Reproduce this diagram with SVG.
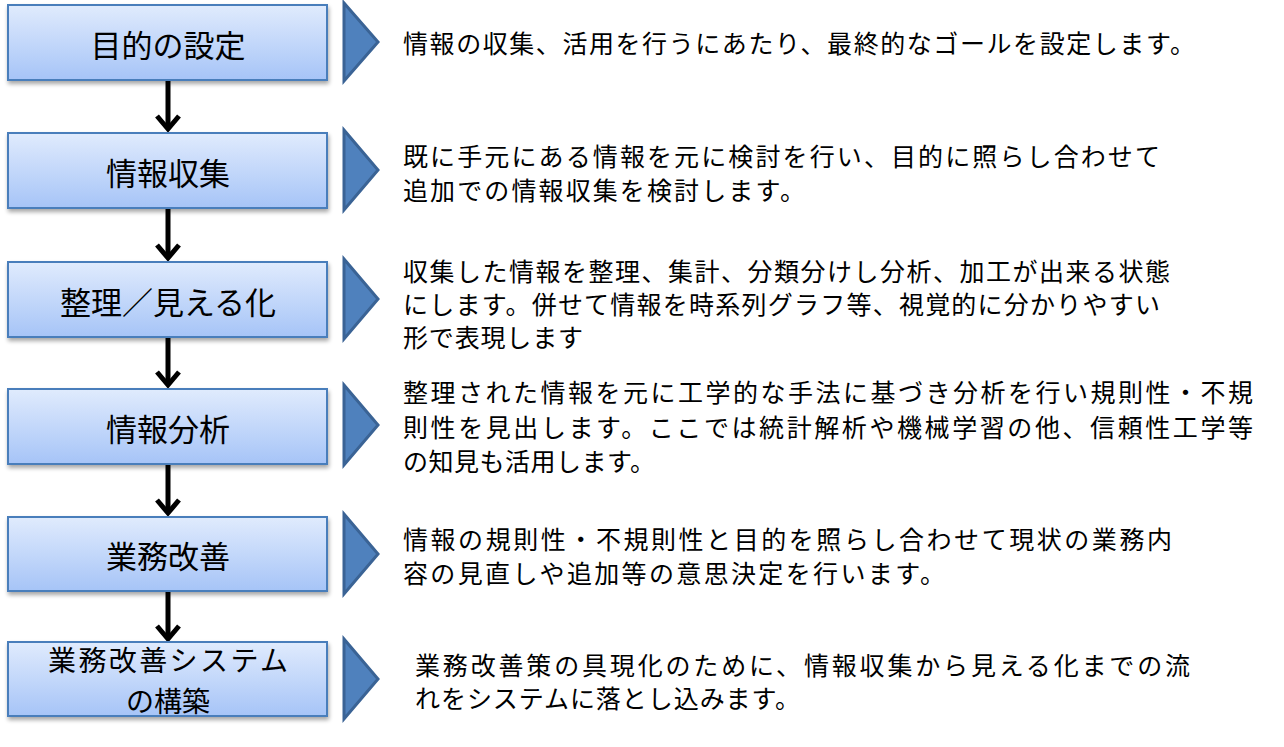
<svg xmlns="http://www.w3.org/2000/svg" width="1284" height="747" viewBox="0 0 1284 747">
<defs>
<linearGradient id="bg" x1="0" y1="0" x2="0" y2="1">
<stop offset="0" stop-color="#e0ebfd"/>
<stop offset="1" stop-color="#a6c4f7"/>
</linearGradient>
<filter id="sh" x="-10%" y="-20%" width="120%" height="150%">
<feGaussianBlur in="SourceAlpha" stdDeviation="2"/>
<feOffset dx="1" dy="3" result="o"/>
<feComponentTransfer><feFuncA type="linear" slope="0.35"/></feComponentTransfer>
<feMerge><feMergeNode/><feMergeNode in="SourceGraphic"/></feMerge>
</filter>
</defs>
<style>
.box{fill:url(#bg);stroke:#4a7ebb;stroke-width:2;filter:url(#sh)}
.tri{fill:#4f81bd;stroke:#3a6395;stroke-width:3;stroke-linejoin:miter}
.t{font-family:"Noto Sans CJK JP","Noto Sans",sans-serif;fill:#000}
.title{font-size:31px;text-anchor:middle;dominant-baseline:central}
.title2{font-size:28px;text-anchor:middle;dominant-baseline:central}
.desc{font-size:25px;dominant-baseline:central}
.arr{fill:none;stroke:#000;stroke-width:5}
.head{fill:none;stroke:#000;stroke-width:5;stroke-linejoin:miter}
</style>
<g id="connectors">
<path class="arr" d="M168 81 V127"/><path class="head" d="M157 116 L168 129 L179 116"/>
<path class="arr" d="M168 209 V256"/><path class="head" d="M157 245 L168 258 L179 245"/>
<path class="arr" d="M168 338 V383"/><path class="head" d="M157 372 L168 385 L179 372"/>
<path class="arr" d="M168 465 V511"/><path class="head" d="M157 500 L168 513 L179 500"/>
<path class="arr" d="M168 592 V637"/><path class="head" d="M157 626 L168 639 L179 626"/>
</g>
<g id="n1">
<rect class="box" x="8" y="5" width="319" height="75"/>
<text class="t title" x="168" y="43">目的の設定</text>
<polygon class="tri" points="344,3 378,42 344,81"/>
<text class="t desc" x="403" y="42" textLength="792" lengthAdjust="spacing">情報の収集、活用を行うにあたり、最終的なゴールを設定します。</text>
</g>
<g id="n2">
<rect class="box" x="8" y="133" width="319" height="75"/>
<text class="t title" x="168" y="171">情報収集</text>
<polygon class="tri" points="344,130 378,170 344,210"/>
<text class="t desc" x="403" y="155" textLength="757" lengthAdjust="spacing">既に手元にある情報を元に検討を行い、目的に照らし合わせて</text>
<text class="t desc" x="403" y="189" textLength="402" lengthAdjust="spacing">追加での情報収集を検討します。</text>
</g>
<g id="n3">
<rect class="box" x="8" y="262" width="319" height="75"/>
<text class="t title" x="168" y="300">整理／見える化</text>
<polygon class="tri" points="344,259 378,299 344,339"/>
<text class="t desc" x="403" y="270" textLength="767" lengthAdjust="spacing">収集した情報を整理、集計、分類分けし分析、加工が出来る状態</text>
<text class="t desc" x="403" y="303" textLength="757" lengthAdjust="spacing">にします。併せて情報を時系列グラフ等、視覚的に分かりやすい</text>
<text class="t desc" x="403" y="336" textLength="180" lengthAdjust="spacing">形で表現します</text>
</g>
<g id="n4">
<rect class="box" x="8" y="389" width="319" height="75"/>
<text class="t title" x="168" y="427">情報分析</text>
<polygon class="tri" points="344,385 378,425 344,465"/>
<text class="t desc" x="403" y="391" textLength="850" lengthAdjust="spacing">整理された情報を元に工学的な手法に基づき分析を行い規則性・不規</text>
<text class="t desc" x="403" y="426" textLength="850" lengthAdjust="spacing">則性を見出します。ここでは統計解析や機械学習の他、信頼性工学等</text>
<text class="t desc" x="403" y="460" textLength="252" lengthAdjust="spacing">の知見も活用します。</text>
</g>
<g id="n5">
<rect class="box" x="8" y="517" width="319" height="74"/>
<text class="t title" x="168" y="554">業務改善</text>
<polygon class="tri" points="344,514 378,554 344,594"/>
<text class="t desc" x="403" y="538" textLength="769" lengthAdjust="spacing">情報の規則性・不規則性と目的を照らし合わせて現状の業務内</text>
<text class="t desc" x="403" y="572" textLength="542" lengthAdjust="spacing">容の見直しや追加等の意思決定を行います。</text>
</g>
<g id="n6">
<rect class="box" x="8" y="642" width="319" height="74"/>
<text class="t title2" x="168" y="659" textLength="240" lengthAdjust="spacing">業務改善システム</text>
<text class="t title2" x="168" y="700">の構築</text>
<polygon class="tri" points="344,639 378,679 344,719"/>
<text class="t desc" x="415" y="664" textLength="775" lengthAdjust="spacing">業務改善策の具現化のために、情報収集から見える化までの流</text>
<text class="t desc" x="415" y="697" textLength="385" lengthAdjust="spacing">れをシステムに落とし込みます。</text>
</g>
</svg>
